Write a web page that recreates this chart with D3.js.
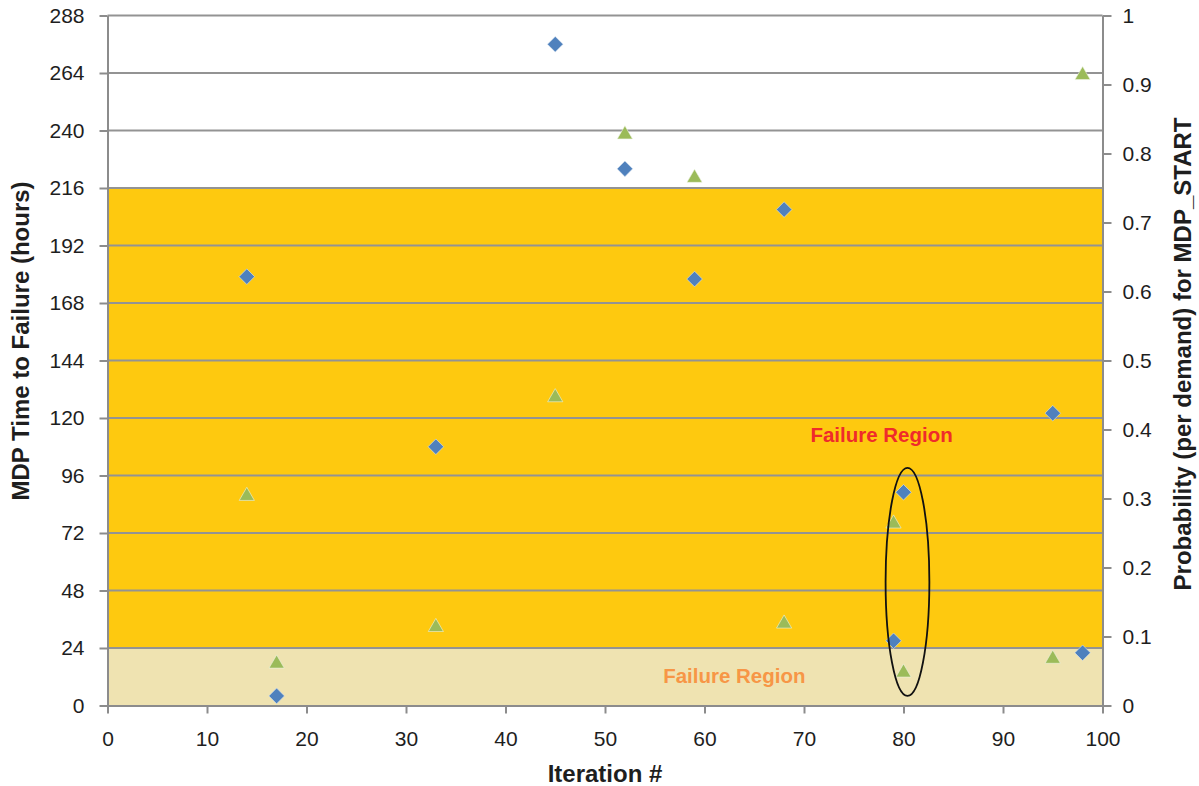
<!DOCTYPE html>
<html>
<head>
<meta charset="utf-8">
<script src="https://cdn.jsdelivr.net/npm/d3@7"></script>
<style>
  html, body { margin: 0; padding: 0; background: #fff; }
  svg { display: block; font-family: "Liberation Sans", Arial, sans-serif; }
  .axis path, .axis line { stroke: #8c8c8c; stroke-width: 2; }
  .axis text { font-size: 21px; fill: #1e1e1e; }
</style>
</head>
<body>
<svg id="chart" width="1199" height="786"></svg>
<script>
// Iteration number for each run
const iterations = [14, 17, 33, 45, 52, 59, 68, 79, 80, 95, 98];
// MDP time to failure (hours), left axis
const timeToFailure = [179, 4, 108, 276, 224, 178, 207, 27, 89, 122, 22];
// Probability per demand for MDP_START, right axis
const probability = [0.305, 0.062, 0.115, 0.448, 0.829, 0.766, 0.120, 0.265, 0.049, 0.069, 0.915];

// Tick values
const xTicks = [0, 10, 20, 30, 40, 50, 60, 70, 80, 90, 100];
const leftTicks = [0, 24, 48, 72, 96, 120, 144, 168, 192, 216, 240, 264, 288];
const rightTicks = [0, 0.1, 0.2, 0.3, 0.4, 0.5, 0.6, 0.7, 0.8, 0.9, 1];

// Shaded failure regions in hours: [low, high]
const regionBounds = [[24, 216], [0, 24]];
const regionLabels = ["Failure Region", "Failure Region"];
// Label anchor points [iteration, hours]
const regionLabelPos = [[77.8, 113], [63, 12.5]];

// Highlight ellipse around iterations 79/80: centre [iteration, hours], radii [iteration, hours]
const highlightCenter = [80.4, 51.6];
const highlightRadius = [2.2, 47.6];

const svg = d3.select("#chart");
const plotLeft = 107.5, plotRight = 1102.5, plotTop = 15.5, plotBottom = 705.5;

const x = d3.scaleLinear().domain([0, 100]).range([plotLeft, plotRight]);
const yL = d3.scaleLinear().domain([0, 288]).range([plotBottom, plotTop]);
const yR = d3.scaleLinear().domain([0, 1]).range([plotBottom, plotTop]);

// Shaded regions
const regionFill = ["#fec90f", "#efe3b1"];
svg.append("g").selectAll("rect").data(regionBounds).join("rect")
  .attr("x", x(0)).attr("width", x(100) - x(0))
  .attr("y", d => yL(d[1]))
  .attr("height", d => yL(d[0]) - yL(d[1]))
  .attr("fill", (d, i) => regionFill[i]);

// Horizontal gridlines
svg.append("g").selectAll("line").data(leftTicks.filter(v => v > 0)).join("line")
  .attr("x1", x(0)).attr("x2", x(100))
  .attr("y1", d => yL(d)).attr("y2", d => yL(d))
  .attr("stroke", "#939393").attr("stroke-width", 2);

// Axes
svg.append("g").attr("class", "axis")
  .attr("transform", `translate(0,${plotBottom})`)
  .call(d3.axisBottom(x).tickValues(xTicks).tickSize(8).tickSizeOuter(0).tickPadding(18).tickFormat(d3.format("d")));

svg.append("g").attr("class", "axis")
  .attr("transform", `translate(${plotLeft},0)`)
  .call(d3.axisLeft(yL).tickValues(leftTicks).tickSize(8).tickSizeOuter(0).tickPadding(15).tickFormat(d3.format("d")));

svg.append("g").attr("class", "axis")
  .attr("transform", `translate(${plotRight},0)`)
  .call(d3.axisRight(yR).tickValues(rightTicks).tickSize(9).tickSizeOuter(0).tickPadding(11).tickFormat(d => d === 0 || d === 1 ? d3.format("d")(d) : d3.format(".1f")(d)));

// Region labels
const labelColors = ["#ef2b2b", "#f79646"];
svg.append("g").selectAll("text").data(regionLabels).join("text")
  .attr("x", (d, i) => x(regionLabelPos[i][0]))
  .attr("y", (d, i) => yL(regionLabelPos[i][1]))
  .attr("text-anchor", "middle").attr("dominant-baseline", "central")
  .attr("font-size", 20.5).attr("font-weight", "bold")
  .attr("fill", (d, i) => labelColors[i])
  .text(d => d);

// Time-to-failure series: blue diamonds
const diamond = d3.symbol().type(d3.symbolDiamond2).size(155);
svg.append("g").selectAll("path").data(iterations).join("path")
  .attr("d", diamond)
  .attr("transform", (d, i) => `translate(${x(d)},${yL(timeToFailure[i])})`)
  .attr("fill", "#4f81bd")
  .attr("stroke", "#dbe5f1").attr("stroke-width", 0.6);

// Probability series: green triangles
const tri = d3.symbol().type(d3.symbolTriangle).size(100);
svg.append("g").selectAll("path").data(iterations).join("path")
  .attr("d", tri)
  .attr("transform", (d, i) => `translate(${x(d)},${yR(probability[i]) + 1})`)
  .attr("fill", "#9bbb59")
  .attr("stroke", "#eef3e2").attr("stroke-width", 0.6);

// Highlight ellipse
svg.append("ellipse")
  .attr("cx", x(highlightCenter[0]))
  .attr("cy", yL(highlightCenter[1]))
  .attr("rx", x(highlightCenter[0] + highlightRadius[0]) - x(highlightCenter[0]))
  .attr("ry", yL(highlightCenter[1]) - yL(highlightCenter[1] + highlightRadius[1]))
  .attr("fill", "none").attr("stroke", "#111").attr("stroke-width", 1.8);

// Axis titles
svg.append("text")
  .attr("transform", `translate(${x(50)},773)`)
  .attr("text-anchor", "middle").attr("dominant-baseline", "central")
  .attr("font-size", 24).attr("font-weight", "bold").attr("fill", "#1e1e1e")
  .text("Iteration #");

svg.append("text")
  .attr("transform", "translate(20,341) rotate(-90)")
  .attr("text-anchor", "middle").attr("dominant-baseline", "central")
  .attr("font-size", 24).attr("font-weight", "bold").attr("fill", "#1e1e1e")
  .text("MDP Time to Failure (hours)");

svg.append("text")
  .attr("transform", "translate(1182,354) rotate(-90)")
  .attr("text-anchor", "middle").attr("dominant-baseline", "central")
  .attr("font-size", 24).attr("font-weight", "bold").attr("fill", "#1e1e1e")
  .text("Probability (per demand) for MDP_START");
</script>
</body>
</html>
